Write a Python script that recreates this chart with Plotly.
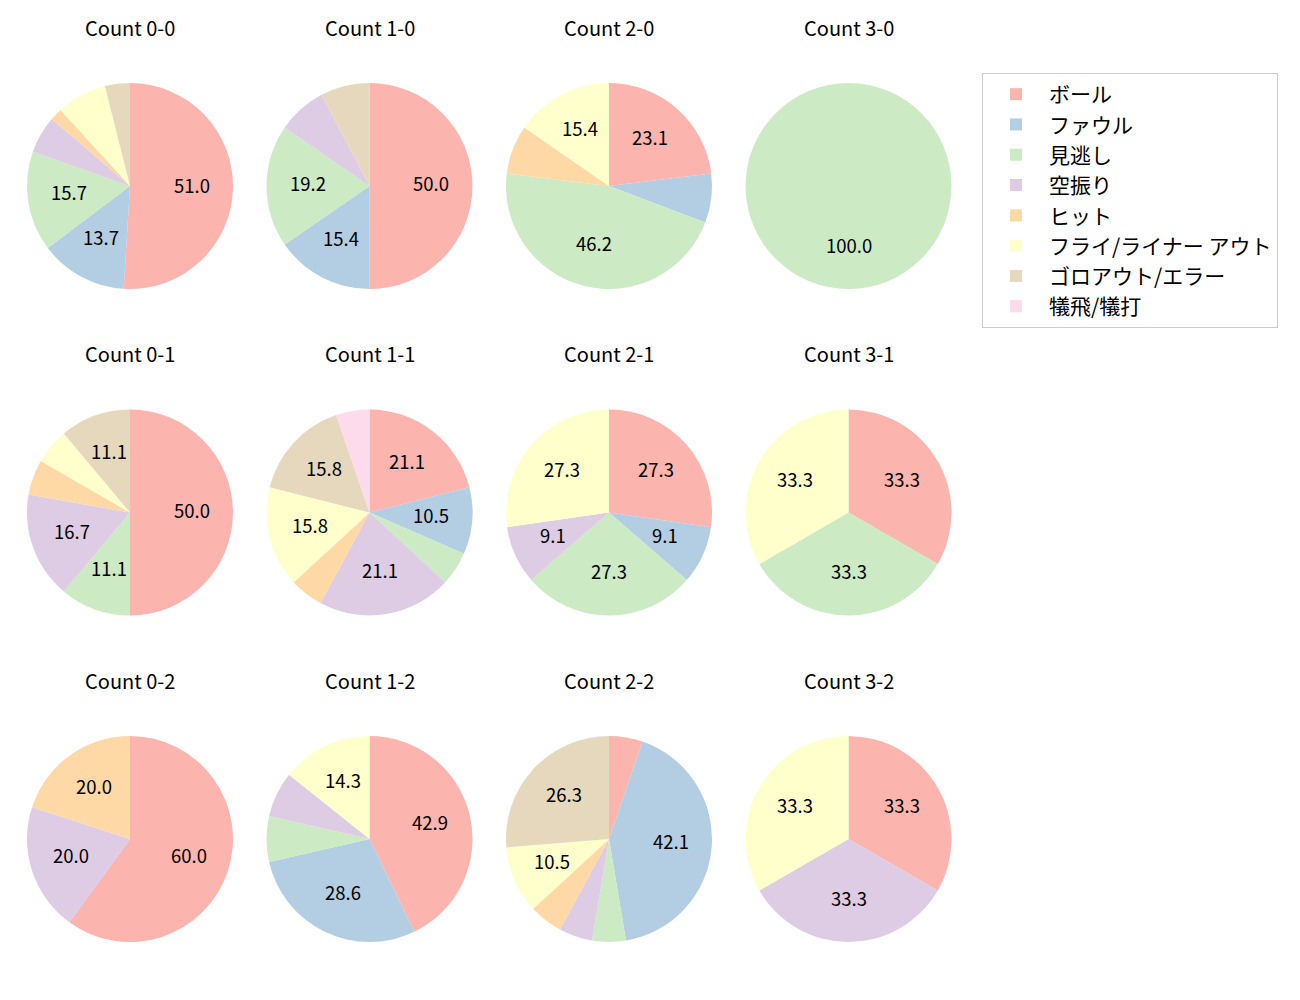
import math
import plotly.graph_objects as go

labels = ["ボール", "ファウル", "見逃し", "空振り", "ヒット", "フライ/ライナー アウト", "ゴロアウト/エラー", "犠飛/犠打"]
colors = ["#fbb4ae", "#b3cde3", "#ccebc5", "#decbe4", "#fed9a6", "#ffffcc", "#e5d8bd", "#fddaec"]

titles = ["Count 0-0", "Count 1-0", "Count 2-0", "Count 3-0",
          "Count 0-1", "Count 1-1", "Count 2-1", "Count 3-1",
          "Count 0-2", "Count 1-2", "Count 2-2", "Count 3-2"]

# pitch outcome counts per ball-strike count (order follows labels)
c00 = [26, 7, 8, 3, 1, 4, 2, 0]
c10 = [13, 4, 5, 2, 0, 0, 2, 0]
c20 = [3, 1, 6, 0, 1, 2, 0, 0]
c30 = [0, 0, 1, 0, 0, 0, 0, 0]
c01 = [9, 0, 2, 3, 1, 1, 2, 0]
c11 = [4, 2, 1, 4, 1, 3, 3, 1]
c21 = [3, 1, 3, 1, 0, 3, 0, 0]
c31 = [1, 0, 1, 0, 0, 1, 0, 0]
c02 = [3, 0, 0, 1, 1, 0, 0, 0]
c12 = [6, 4, 1, 1, 0, 2, 0, 0]
c22 = [1, 8, 1, 1, 1, 2, 5, 0]
c32 = [1, 0, 0, 1, 0, 1, 0, 0]
data = [c00, c10, c20, c30, c01, c11, c21, c31, c02, c12, c22, c32]

W, H = 1300, 1000
col_cx = [130, 369.5, 609, 848.5]
row_cy = [186, 512.5, 839]
R = 103
FONT = "Noto Sans CJK JP"
TITLE_FS = 20
LABEL_FS = 18.5
LEGEND_FS = 21

fig = go.Figure()
annotations = []
for i, (vals, title) in enumerate(zip(data, titles)):
    r, c = divmod(i, 4)
    cx, cy = col_cx[c], row_cy[r]
    fig.add_trace(go.Pie(
        labels=labels, values=vals, sort=False, direction="clockwise", rotation=0,
        marker=dict(colors=colors, line=dict(width=0)),
        textinfo="none", hoverinfo="label+percent",
        domain=dict(x=[(cx - R) / W, (cx + R) / W], y=[1 - (cy + R) / H, 1 - (cy - R) / H]),
        showlegend=(i == 0),
    ))
    annotations.append(dict(text=title, x=cx / W, y=1 - (cy - 158) / H, xref="paper", yref="paper",
                            showarrow=False, font=dict(family=FONT, size=TITLE_FS, color="#000"),
                            xanchor="center", yanchor="middle", yshift=1))
    total = sum(vals)
    cum = 0
    for v in vals:
        if v == 0:
            continue
        pct = 100 * v / total
        mid = (cum + v / 2) / total * 2 * math.pi
        cum += v
        if pct < 9:
            continue
        px = cx + 0.6 * R * math.sin(mid)
        py = cy - 0.6 * R * math.cos(mid)
        annotations.append(dict(text=f"{pct:.1f}", x=px / W, y=1 - py / H, xref="paper", yref="paper",
                                showarrow=False, font=dict(family=FONT, size=LABEL_FS, color="#000"),
                                xanchor="center", yanchor="middle", yshift=3))

fig.update_layout(
    width=W, height=H, margin=dict(l=0, r=0, t=0, b=0),
    paper_bgcolor="white", plot_bgcolor="white",
    annotations=annotations,
    legend=dict(x=982 / W, y=1 - 73 / H, xanchor="left", yanchor="top",
                bordercolor="#cccccc", borderwidth=1, bgcolor="white", itemwidth=56,
                font=dict(family=FONT, size=LEGEND_FS, color="#000"), traceorder="normal"),
    font=dict(family=FONT),
)
fig.write_html("out.html")
